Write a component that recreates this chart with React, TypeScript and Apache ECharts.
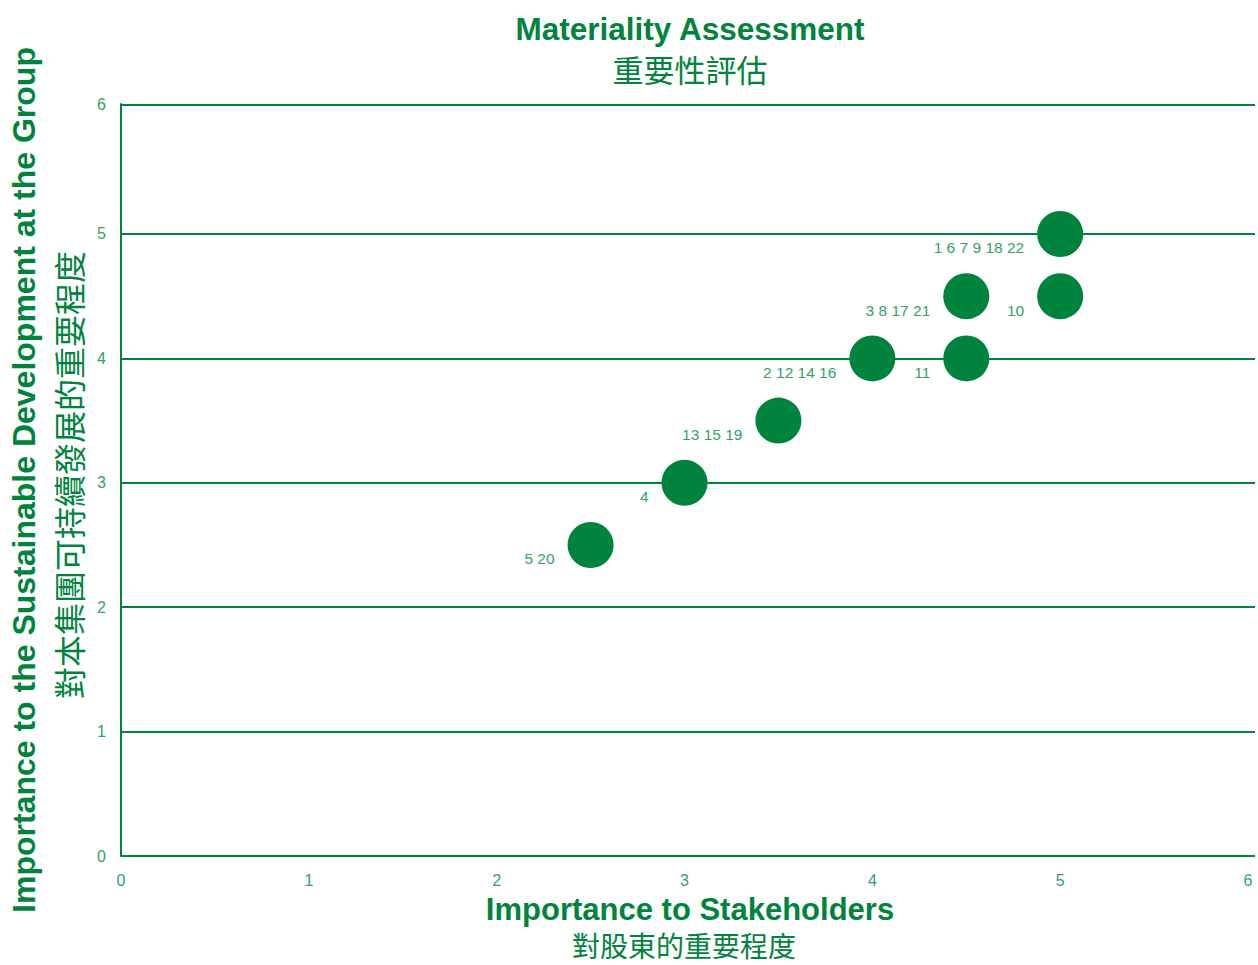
import React, { useEffect, useRef } from "react";
import * as echarts from "echarts";

const xValues = [5, 4.5, 5, 4, 4.5, 3.5, 3, 2.5];
const yValues = [5, 4.5, 4.5, 4, 4, 3.5, 3, 2.5];
const pointLabels = ["1 6 7 9 18 22", "3 8 17 21", "10", "2 12 14 16", "11", "13 15 19", "4", "5 20"];
const gridLineValues = [0, 1, 2, 3, 4, 5];
const titleEn = "Materiality Assessment";
const titleZh = "重要性評估";
const xNameEn = "Importance to Stakeholders";
const xNameZh = "對股東的重要程度";
const yNameEn = "Importance to the Sustainable Development at the Group";
const yNameZh = "對本集團可持續發展的重要程度";

const DARK = "#00843D";
const LIGHT = "#33a265";
const FONT = "'Liberation Sans', Arial, Helvetica, sans-serif";
const CJK = "'Noto Sans CJK TC', 'Noto Sans CJK SC', sans-serif";

const Y_TOP = 6.045;
const X_MAX = 6 * (1137 / 1130);

const xLabel = (v: number) => (Math.abs(v - Math.round(v)) < 1e-6 ? String(Math.round(v)) : "");
const yLabel = (v: number) => {
  if (Math.abs(v - Y_TOP) < 1e-6) return "6";
  if (Math.abs(v - 6) < 1e-6) return "";
  return Math.abs(v - Math.round(v)) < 1e-6 ? String(Math.round(v)) : "";
};

export default function App() {
  const ref = useRef<HTMLDivElement>(null);
  useEffect(() => {
    document.body.style.margin = "0";
    const chart = echarts.init(ref.current!, null, { renderer: "svg" });
    const data = xValues.map((x, i) => ({ value: [x, yValues[i]], label: { formatter: pointLabels[i] } }));
    chart.setOption({
      animation: false,
      grid: { left: 121, right: 0, top: 104, bottom: 109 },
      xAxis: {
        type: "value",
        min: 0,
        max: X_MAX,
        interval: 1,
        axisLine: { show: false },
        axisTick: { show: false },
        splitLine: { show: false },
        axisLabel: { color: LIGHT, fontSize: 16, fontFamily: FONT, margin: 16, formatter: xLabel },
      },
      yAxis: {
        type: "value",
        min: 0,
        max: Y_TOP,
        interval: 1,
        axisLine: { show: true, lineStyle: { color: DARK, width: 2 } },
        axisTick: { show: false },
        splitLine: { show: false },
        axisLabel: { color: LIGHT, fontSize: 16, fontFamily: FONT, margin: 15, formatter: yLabel },
      },
      series: [
        {
          type: "scatter",
          symbolSize: 46,
          z: 3,
          itemStyle: { color: DARK, opacity: 1 },
          label: {
            show: true,
            position: "left",
            distance: 13,
            offset: [0, 14],
            color: LIGHT,
            fontSize: 15.5,
            fontFamily: FONT,
          },
          markLine: {
            silent: true,
            symbol: "none",
            animation: false,
            label: { show: false },
            lineStyle: { color: DARK, width: 2, type: "solid" },
            emphasis: { disabled: true },
            data: [...gridLineValues, Y_TOP].map((v) => ({ yAxis: v })),
          },
          data,
        },
      ],
      graphic: [
        {
          type: "text",
          x: 690,
          y: 29,
          style: { text: titleEn, fill: DARK, font: `bold 31.5px ${FONT}`, lineHeight: 32, align: "center", verticalAlign: "middle" },
        },
        {
          type: "text",
          x: 690,
          y: 68,
          style: { text: titleZh, fill: DARK, font: `31px ${CJK}`, lineHeight: 31, align: "center", verticalAlign: "middle" },
        },
        {
          type: "text",
          x: 690,
          y: 909,
          style: { text: xNameEn, fill: DARK, font: `bold 31px ${FONT}`, lineHeight: 31, align: "center", verticalAlign: "middle" },
        },
        {
          type: "text",
          x: 684,
          y: 945,
          style: { text: xNameZh, fill: DARK, font: `28px ${CJK}`, lineHeight: 28, align: "center", verticalAlign: "middle" },
        },
        {
          type: "text",
          x: 24,
          y: 480,
          rotation: Math.PI / 2,
          style: { text: yNameEn, fill: DARK, font: `bold 32px ${FONT}`, lineHeight: 32, align: "center", verticalAlign: "middle" },
        },
        {
          type: "text",
          x: 68,
          y: 475,
          rotation: Math.PI / 2,
          style: { text: yNameZh, fill: DARK, font: `32px ${CJK}`, lineHeight: 32, align: "center", verticalAlign: "middle" },
        },
      ],
    });
    return () => chart.dispose();
  }, []);
  return <div ref={ref} style={{ width: 1258, height: 965 }} />;
}
